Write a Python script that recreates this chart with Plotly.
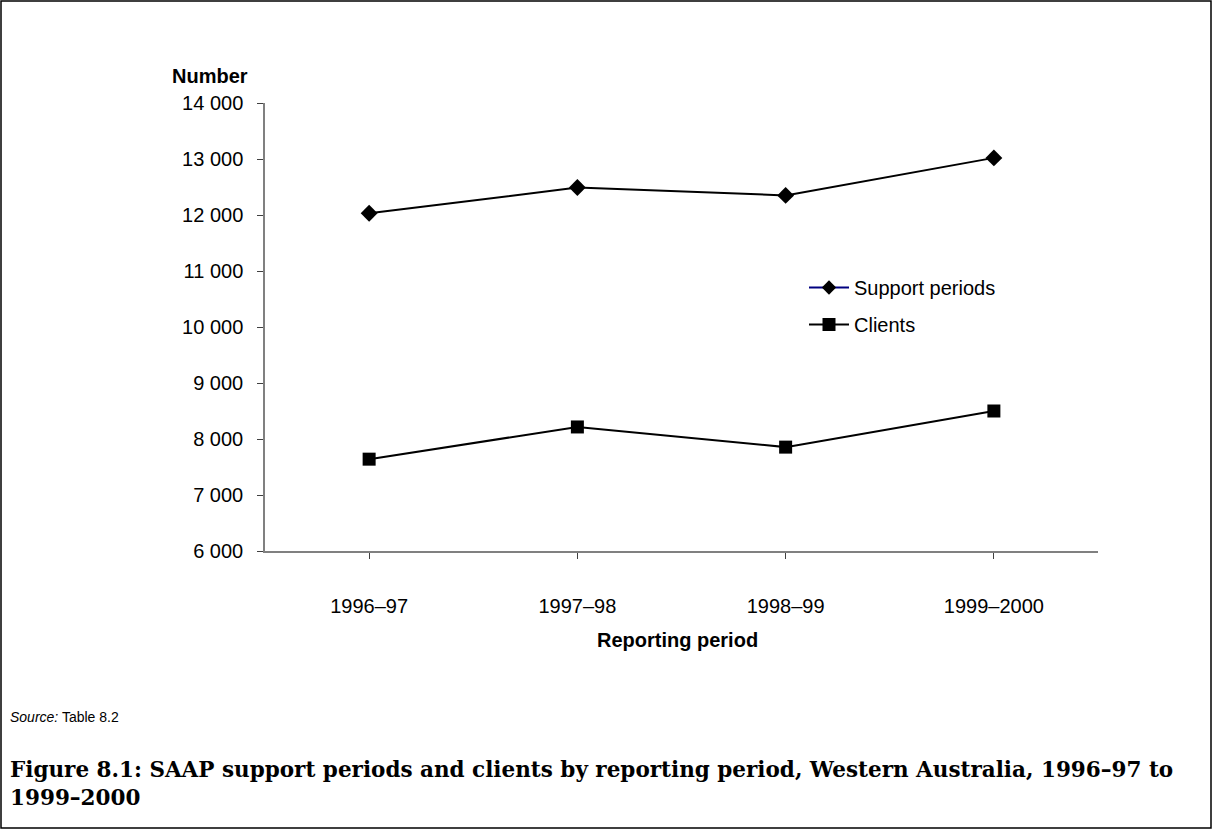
import plotly.graph_objects as go

W, H = 1213, 830

periods = ["1996–97", "1997–98", "1998–99", "1999–2000"]
support_periods = [12030, 12490, 12350, 13020]
clients = [7640, 8215, 7855, 8500]

y_ticks = [6000, 7000, 8000, 9000, 10000, 11000, 12000, 13000, 14000]

FONT = "Liberation Sans, Arial, sans-serif"


def px(x):
    return x / W


def py(y):
    return 1 - y / H


fig = go.Figure()

fig.add_trace(go.Scatter(
    x=periods, y=support_periods, mode="lines+markers", showlegend=False,
    line=dict(color="black", width=2),
    marker=dict(symbol="diamond", size=13, color="black"),
))
fig.add_trace(go.Scatter(
    x=periods, y=clients, mode="lines+markers", showlegend=False,
    line=dict(color="black", width=2),
    marker=dict(symbol="square", size=13, color="black"),
))
# legend entries
fig.add_trace(go.Scatter(
    x=[None], y=[None], mode="lines+markers", name="Support periods",
    legendgroup="a",
    line=dict(color="#000080", width=2),
    marker=dict(symbol="diamond", size=11, color="black"),
))
fig.add_trace(go.Scatter(
    x=[None], y=[None], mode="lines+markers", name="Clients",
    legendgroup="b",
    line=dict(color="black", width=2),
    marker=dict(symbol="square", size=13, color="black"),
))

fig.update_layout(
    width=W, height=H,
    margin=dict(l=0, r=0, t=0, b=0, autoexpand=False),
    paper_bgcolor="white", plot_bgcolor="white",
    separators=". ",
    font=dict(family=FONT, size=20, color="black"),
    showlegend=True,
    legend=dict(
        x=px(804), y=py(268), xanchor="left", yanchor="top",
        bgcolor="rgba(0,0,0,0)", font=dict(size=20, family=FONT),
        traceorder="grouped", tracegroupgap=8, itemwidth=40,
    ),
    xaxis=dict(
        domain=[px(265), px(1098)],
        type="category", range=[-0.5, 3.5],
        showline=True, linecolor="#808080", linewidth=1.5,
        ticks="outside", ticklen=6, tickcolor="#404040", tickwidth=1,
        showgrid=False, zeroline=False, automargin=False,
        ticklabelstandoff=30,
        tickfont=dict(size=20, family=FONT),
        anchor="y",
    ),
    yaxis=dict(
        domain=[py(551), py(103)],
        range=[6000, 14000],
        tickvals=y_ticks, tickformat=",d",
        showline=True, linecolor="#808080", linewidth=1.5,
        ticks="outside", ticklen=6, tickcolor="#404040", tickwidth=1,
        showgrid=False, zeroline=False, automargin=False,
        ticklabelstandoff=10,
        tickfont=dict(size=20, family=FONT),
        anchor="x",
    ),
)

fig.add_annotation(
    x=px(210), y=py(76), xref="paper", yref="paper",
    text="<b>Number</b>", showarrow=False,
    xanchor="center", yanchor="middle",
    font=dict(size=20, family=FONT),
)
fig.add_annotation(
    x=px(677), y=py(640), xref="paper", yref="paper",
    text="<b>Reporting period</b>", showarrow=False,
    xanchor="center", yanchor="middle",
    font=dict(size=20, family=FONT),
)
fig.add_annotation(
    x=px(8), y=py(717), xref="paper", yref="paper",
    text="<i>Source:</i> Table 8.2", showarrow=False,
    xanchor="left", yanchor="middle",
    font=dict(size=14, family=FONT),
)
fig.add_annotation(
    x=px(8), y=py(783), xref="paper", yref="paper",
    text="<b>Figure 8.1: SAAP support periods and clients by reporting period, Western Australia, 1996–97 to<br>1999–2000</b>",
    showarrow=False, align="left",
    xanchor="left", yanchor="middle",
    font=dict(size=21.5, family="DejaVu Serif, serif"),
)

fig.add_shape(
    type="rect", xref="paper", yref="paper",
    x0=px(1), x1=px(1211), y0=py(828), y1=py(1),
    line=dict(color="black", width=1.5), fillcolor="rgba(0,0,0,0)",
)

fig.write_html("out.html")
